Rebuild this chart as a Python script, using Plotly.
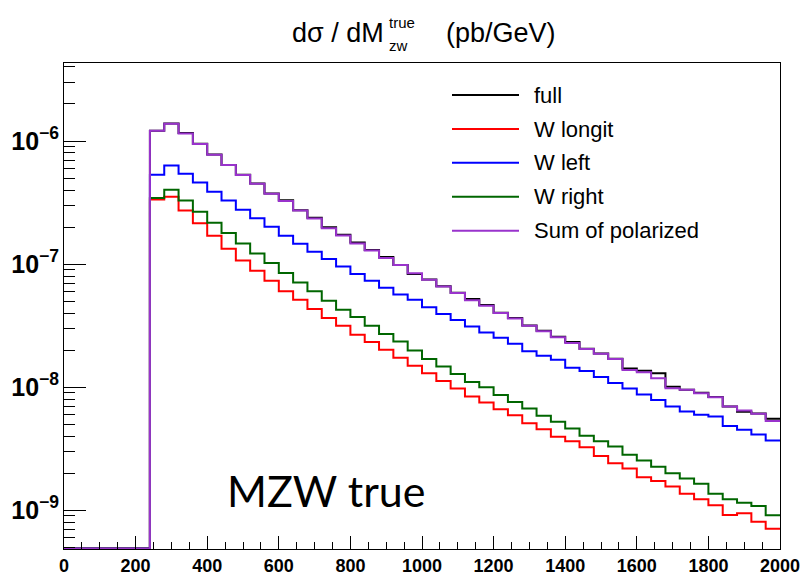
import plotly.graph_objects as go
import numpy as np

# ---------------- data (bin lower edges, 40 GeV bins) ----------------
bin_low_edges = list(range(0, 2000, 40))   # 50 bins from 0 to 2000 GeV
x_max = 2000

full = [0, 0, 0, 0, 0, 0,
        1.21e-6, 1.39e-6, 1.16e-6, 9.50e-7, 7.78e-7, 6.40e-7, 5.31e-7, 4.52e-7, 3.75e-7,
        3.30e-7, 2.74e-7, 2.38e-7, 1.99e-7, 1.73e-7, 1.50e-7, 1.30e-7, 1.14e-7,
        9.85e-8, 8.30e-8, 7.50e-8, 6.60e-8, 5.85e-8, 5.20e-8, 4.65e-8, 4.02e-8, 3.65e-8,
        3.17e-8, 2.87e-8, 2.57e-8, 2.33e-8, 2.05e-8, 1.88e-8, 1.70e-8, 1.42e-8, 1.36e-8,
        1.30e-8, 1.01e-8, 9.55e-9, 9.00e-9, 8.30e-9, 6.98e-9, 6.30e-9, 6.10e-9, 5.53e-9]

w_longit = [0, 0, 0, 0, 0, 0,
            3.35e-7, 3.52e-7, 2.73e-7, 2.15e-7, 1.70e-7, 1.33e-7, 1.07e-7, 8.82e-8, 7.32e-8,
            6.03e-8, 5.13e-8, 4.31e-8, 3.64e-8, 3.15e-8, 2.66e-8, 2.33e-8, 2.01e-8,
            1.73e-8, 1.49e-8, 1.30e-8, 1.12e-8, 9.75e-9, 8.39e-9, 7.50e-9, 6.62e-9, 5.92e-9,
            5.09e-9, 4.56e-9, 3.96e-9, 3.64e-9, 3.25e-9, 2.76e-9, 2.41e-9, 2.18e-9, 1.85e-9,
            1.73e-9, 1.56e-9, 1.36e-9, 1.23e-9, 1.10e-9, 9.15e-10, 9.45e-10, 8.07e-10, 7.08e-10]

w_left = [0, 0, 0, 0, 0, 0,
          5.32e-7, 6.34e-7, 5.42e-7, 4.60e-7, 3.87e-7, 3.29e-7, 2.76e-7, 2.36e-7, 2.01e-7,
          1.70e-7, 1.46e-7, 1.26e-7, 1.10e-7, 9.55e-8, 8.29e-8, 7.32e-8, 6.41e-8,
          5.66e-8, 5.13e-8, 4.47e-8, 3.94e-8, 3.52e-8, 3.11e-8, 2.78e-8, 2.52e-8, 2.25e-8,
          1.96e-8, 1.80e-8, 1.67e-8, 1.44e-8, 1.35e-8, 1.21e-8, 1.08e-8, 9.75e-9, 8.71e-9,
          7.88e-9, 6.95e-9, 6.34e-9, 5.96e-9, 5.77e-9, 4.84e-9, 4.50e-9, 4.12e-9, 3.68e-9]

w_right = [0, 0, 0, 0, 0, 0,
           3.44e-7, 4.02e-7, 3.29e-7, 2.66e-7, 2.17e-7, 1.79e-7, 1.47e-7, 1.22e-7, 1.02e-7,
           8.45e-8, 7.08e-8, 6.03e-8, 5.03e-8, 4.25e-8, 3.71e-8, 3.15e-8, 2.70e-8,
           2.35e-8, 1.99e-8, 1.69e-8, 1.47e-8, 1.28e-8, 1.10e-8, 1.00e-8, 8.65e-9, 7.59e-9,
           6.70e-9, 5.85e-9, 5.23e-9, 4.61e-9, 4.02e-9, 3.64e-9, 3.29e-9, 2.83e-9, 2.53e-9,
           2.26e-9, 2.00e-9, 1.81e-9, 1.64e-9, 1.36e-9, 1.23e-9, 1.15e-9, 1.08e-9, 9.10e-10]

sum_polarized = [0, 0, 0, 0, 0, 0,
                 1.21e-6, 1.38e-6, 1.15e-6, 9.45e-7, 7.74e-7, 6.38e-7, 5.29e-7, 4.50e-7, 3.73e-7,
                 3.25e-7, 2.73e-7, 2.35e-7, 1.96e-7, 1.71e-7, 1.47e-7, 1.29e-7, 1.12e-7,
                 9.82e-8, 8.41e-8, 7.45e-8, 6.57e-8, 5.81e-8, 5.08e-8, 4.58e-8, 4.00e-8, 3.61e-8,
                 3.15e-8, 2.85e-8, 2.55e-8, 2.28e-8, 2.04e-8, 1.87e-8, 1.69e-8, 1.38e-8, 1.32e-8,
                 1.18e-8, 9.82e-9, 9.51e-9, 8.94e-9, 8.29e-9, 6.95e-9, 6.45e-9, 6.07e-9, 5.30e-9]

series_names = ["full", "W longit", "W left", "W right", "Sum of polarized"]
series_values = [full, w_longit, w_left, w_right, sum_polarized]
series_colors = ["#000000", "#ff0000", "#0000ff", "#006600", "#9933cc"]

x_tick_vals = list(range(0, 2001, 200))

# ---------------- layout geometry ----------------
W, H = 804, 576
ML, MR, MT, MB = 64, 24, 63, 27
PW, PH = W - ML - MR, H - MT - MB
y_log_range = [-9.315, -5.366]
y_floor = 10 ** (y_log_range[0] + 0.004)   # empty bins drawn on the frame bottom, as ROOT does


def px(xp):
    return (xp - ML) / PW


def py(yp):
    return (H - MB - yp) / PH


fig = go.Figure()
x_steps = bin_low_edges + [x_max]
for name, vals, col in zip(series_names, series_values, series_colors):
    v = np.array(vals, dtype=float)
    v = np.where(v > 0, v, y_floor)
    y_steps = list(v) + [v[-1]]
    fig.add_trace(go.Scatter(x=x_steps, y=y_steps, mode="lines", name=name,
                             line=dict(color=col, width=2, shape="hv"),
                             showlegend=False, hoverinfo="skip"))

x_font = dict(family="Liberation Sans, Arial", size=18, color="black", weight="bold")
y_font = dict(family="Liberation Sans, Arial", size=20, color="black", weight="bold")

fig.update_layout(
    width=W, height=H,
    margin=dict(l=ML, r=MR, t=MT, b=MB, pad=0, autoexpand=False),
    paper_bgcolor="white", plot_bgcolor="white",
    showlegend=False,
    xaxis=dict(range=[0, x_max], tickvals=x_tick_vals, ticks="inside", ticklen=13,
               tickwidth=1, tickcolor="black", showline=True, mirror=True,
               linecolor="black", linewidth=1, showgrid=False, zeroline=False,
               tickfont=x_font, automargin=False, ticklabelstandoff=0,
               minor=dict(ticks="inside", ticklen=7, dtick=50, tickcolor="black",
                          showgrid=False)),
    yaxis=dict(type="log", range=y_log_range, dtick=1, exponentformat="power",
               ticks="inside", ticklen=22, tickwidth=1, tickcolor="black",
               showline=True, mirror=True, linecolor="black", linewidth=1,
               showgrid=False, zeroline=False, tickfont=y_font, automargin=False,
               minor=dict(ticks="inside", ticklen=11, dtick="D1", tickcolor="black",
                          showgrid=False)),
)

# ---------------- title (ROOT style, stacked sub/superscript) ----------------
title_font = dict(family="Liberation Sans, Arial", size=27, color="black")
small_font = dict(family="Liberation Sans, Arial", size=15, color="black")
fig.add_annotation(text="dσ / dM", x=px(386), y=py(33), xref="paper", yref="paper",
                   xanchor="right", yanchor="middle", showarrow=False, font=title_font)
fig.add_annotation(text="true", x=px(387), y=py(22), xref="paper", yref="paper",
                   xanchor="left", yanchor="middle", showarrow=False, font=small_font)
fig.add_annotation(text="zw", x=px(387), y=py(45), xref="paper", yref="paper",
                   xanchor="left", yanchor="middle", showarrow=False, font=small_font)
fig.add_annotation(text="(pb/GeV)", x=px(444), y=py(33), xref="paper", yref="paper",
                   xanchor="left", yanchor="middle", showarrow=False, font=title_font)

# ---------------- legend (ROOT TLegend look) ----------------
legend_rows = [95, 129, 162.7, 196.7, 230.7]
for name, col, ry in zip(series_names, series_colors, legend_rows):
    fig.add_shape(type="line", xref="paper", yref="paper", x0=px(452), x1=px(519),
                  y0=py(ry), y1=py(ry), line=dict(color=col, width=2))
    fig.add_annotation(text=name, x=px(532), y=py(ry), xref="paper", yref="paper",
                       xanchor="left", yanchor="middle", showarrow=False,
                       font=dict(family="Liberation Sans, Arial", size=22, color="black"))

# ---------------- label inside the pad ----------------
fig.add_annotation(text="MZW true", x=px(326), y=py(490), xref="paper", yref="paper",
                   xanchor="center", yanchor="middle", showarrow=False,
                   font=dict(family="Lato, Open Sans, sans-serif", size=43, color="black"))

fig.write_html("out.html")
